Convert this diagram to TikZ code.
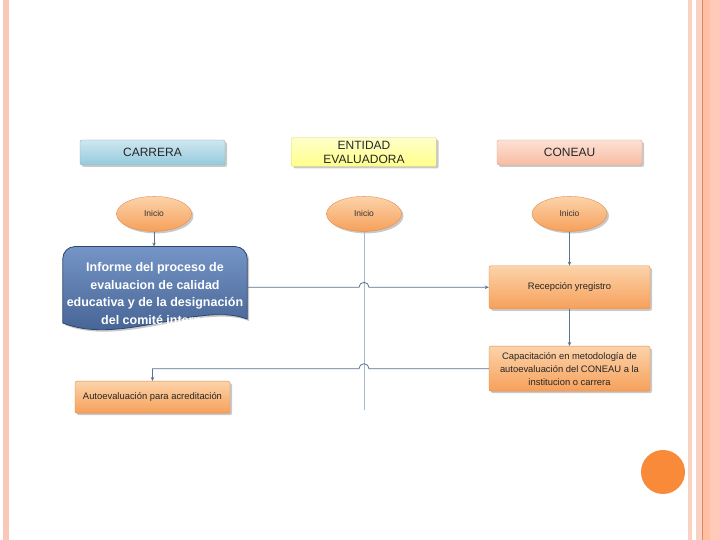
\documentclass[tikz,border=0pt]{standalone}
\usepackage{fontspec}
\setmainfont{Liberation Sans}
\usepackage{xcolor}
\usetikzlibrary{positioning,arrows.meta,shapes.geometric,shadows}

\definecolor{hdBlue}{HTML}{94CADD}
\definecolor{hdYel}{HTML}{FFFF8A}
\definecolor{hdSal}{HTML}{F9BCA2}
\definecolor{orTop}{HTML}{FCD3AA}
\definecolor{orBot}{HTML}{F6A05A}
\definecolor{orBd}{HTML}{E38D4E}
\definecolor{docTop}{HTML}{7595C6}
\definecolor{docBot}{HTML}{3E5C8C}
\definecolor{docBd}{HTML}{2C4670}
\definecolor{lineC}{HTML}{5A7391}
\definecolor{laneC}{HTML}{A5B8CE}
\definecolor{dotC}{HTML}{F98A3A}
\definecolor{bdA}{HTML}{F9C8B6}
\definecolor{bdB}{HTML}{FAD2C4}
\definecolor{bdC}{HTML}{D98A60}
\definecolor{bdD}{HTML}{FFBFA2}
\definecolor{bdE}{HTML}{FFCABA}

\begin{document}
\begin{tikzpicture}[
  x=1pt, y=1pt,
  font=\fontsize{9}{11}\selectfont,
  >={Stealth[length=4pt, width=3.5pt]},
  node distance=31pt,
  shd/.style={drop shadow={shadow xshift=2pt, shadow yshift=-2pt, opacity=0.35, fill=black!60}},
  head/.style={shd, draw=#1!70!gray, rounded corners=2pt, top color=#1!45!white, bottom color=#1,
    minimum width=145pt, minimum height=25pt, inner sep=0pt, align=center, text=black!85,
    font=\fontsize{12}{14}\selectfont},
  start/.style={shd, ellipse, draw=orBd, top color=orTop, bottom color=orBot,
    minimum width=75pt, minimum height=35pt, inner sep=0pt, text=black!80, font=\fontsize{8.5}{9}\selectfont},
  act/.style={shd, draw=orBd, rounded corners=2pt, top color=orTop, bottom color=orBot,
    minimum width=161pt, align=center, text=black!85, font=\fontsize{9.4}{13}\selectfont},
  docbox/.style={minimum width=184pt, minimum height=81pt, inner sep=0pt},
  doctext/.style={align=center, text=white, font=\bfseries\fontsize{12.5}{17.5}\selectfont},
  flow/.style={draw=lineC, line width=0.8pt, ->},
  lane/.style={draw=laneC, line width=0.8pt}
]
  % Slide
  \useasboundingbox (0,0) rectangle (720,540);
  \fill[white] (0,0) rectangle (720,540);
  \fill[bdA] (3,0) rectangle (9,540);
  \fill[bdB] (688,0) rectangle (692,540);
  \fill[bdB] (696,0) rectangle (702,540);
  \fill[bdD] (703,0) rectangle (710,540);
  \fill[bdE] (710,0) rectangle (720,540);
  \draw[bdC, line width=0.9pt] (702.5,0) -- (702.5,540);
  \fill[dotC] (663,68) circle[radius=22pt];

  % Lanes
  \node[head=hdBlue] (car) at (152.5,387.5) {CARRERA};
  \node[head=hdYel, minimum height=29pt] (ent) at (364,388) {ENTIDAD\\EVALUADORA};
  \node[head=hdSal] (con) at (569.5,387.5) {CONEAU};

  % Start
  \node[start, below=31pt of car, xshift=1.5pt] (i1) {Inicio};
  \node[start] (i2) at (i1 -| ent) {Inicio};
  \node[start] (i3) at (i1 -| con) {Inicio};

  % Steps
  \node[docbox, below=15pt of i1, xshift=1pt] (doc) {};
  \path[shd, draw=docBd, line width=0.8pt, top color=docTop, bottom color=docBot]
    ([yshift=5pt]doc.south west) -- ([yshift=-12pt]doc.north west)
    arc[start angle=180, end angle=90, radius=12pt] -- ([xshift=-12pt]doc.north east)
    arc[start angle=90, end angle=0, radius=12pt] -- ([yshift=9pt]doc.south east)
    .. controls ([xshift=-47pt, yshift=27pt]doc.south east) and ([xshift=57pt, yshift=-18pt]doc.south west) .. cycle;
  \node[doctext] (doct) at ([yshift=-6pt]doc.center)
    {Informe del proceso de\\evaluacion de calidad\\educativa y de la designación\\del comité interno};

  \node[act, minimum height=43pt, below=34pt of i3] (rec) {Recepción yregistro};
  \node[act, minimum height=45pt, below=37pt of rec] (cap)
    {Capacitación en metodología de\\autoevaluación del CONEAU a la\\institucion o carrera};
  \node[act, minimum width=155pt, minimum height=32pt, below=53pt of doc, xshift=-2.5pt] (auto)
    {Autoevaluación para acreditación};

  % Arrows
  \coordinate (lend) at (364,130);
  \draw[lane] (i2.south) -- (lend);
  \draw[flow] (i1.south) -- (i1.south |- doc.north);
  \draw[flow] (i3.south) -- (i3.south |- rec.north);
  \draw[flow] (rec) -- (cap);
  \draw[flow] (doc.east) -- ([xshift=-5pt]i2.south |- doc.east)
    arc[start angle=180, end angle=0, radius=5pt] -- (rec.west);
  \draw[flow] (cap.west) -- ([xshift=5pt]i2.south |- cap.west)
    arc[start angle=0, end angle=180, radius=5pt] -- (auto.north |- cap.west) -- (auto.north);
\end{tikzpicture}
\end{document}
